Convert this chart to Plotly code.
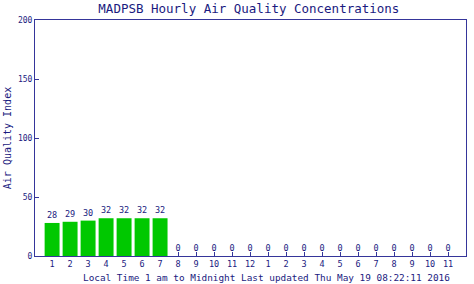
import plotly.graph_objects as go

hour_labels = ["1", "2", "3", "4", "5", "6", "7", "8", "9", "10", "11", "12",
               "1", "2", "3", "4", "5", "6", "7", "8", "9", "10", "11"]
aqi_values = [28, 29, 30, 32, 32, 32, 32, 0, 0, 0, 0, 0,
              0, 0, 0, 0, 0, 0, 0, 0, 0, 0, 0]
y_ticks = [0, 50, 100, 150, 200]

navy = "#1a1a80"
line_col = "#35359a"
mono = "DejaVu Sans Mono"

x_pos = list(range(len(hour_labels)))

fig = go.Figure(go.Bar(
    x=x_pos, y=aqi_values, width=0.83,
    marker=dict(color="#00c800", line=dict(width=0)),
    text=[str(v) for v in aqi_values], textposition="outside",
    textfont=dict(family=mono, size=8.5, color=navy),
    cliponaxis=False,
))

fig.update_layout(
    width=474, height=284,
    margin=dict(l=35, r=8, t=20, b=28, autoexpand=False),
    paper_bgcolor="white", plot_bgcolor="white",
    showlegend=False,
    title=dict(text="MADPSB Hourly Air Quality Concentrations",
               x=0.525, xanchor="center", y=0.97, yanchor="middle",
               font=dict(family=mono, size=12.5, color=navy)),
    font=dict(family=mono, color=navy),
    annotations=[dict(
        text="Local Time 1 am to Midnight Last updated Thu May 19 08:22:11 2016",
        xref="paper", yref="paper", x=(266 - 35) / 431, y=-21 / 236,
        xanchor="center", yanchor="middle", showarrow=False,
        font=dict(family=mono, size=9.4, color=navy),
    )],
)
fig.update_xaxes(
    range=[-0.95, 23], tickvals=x_pos, ticktext=hour_labels,
    ticks="inside", ticklen=4, tickcolor=line_col, tickwidth=1,
    showline=True, linecolor=line_col, linewidth=1, mirror=True,
    showgrid=False, zeroline=False, layer="below traces", automargin=False,
    tickfont=dict(family=mono, size=8.5, color=navy),
)
fig.update_yaxes(
    range=[0, 200], tickvals=y_ticks,
    ticks="inside", ticklen=4, tickcolor=line_col, tickwidth=1,
    showline=True, linecolor=line_col, linewidth=1, mirror=True,
    showgrid=False, zeroline=False, layer="below traces", automargin=False,
    tickfont=dict(family=mono, size=8, color=navy),
    title=dict(text="Air Quality Index",
               font=dict(family=mono, size=10, color=navy), standoff=4),
)

fig.write_html("out.html")
